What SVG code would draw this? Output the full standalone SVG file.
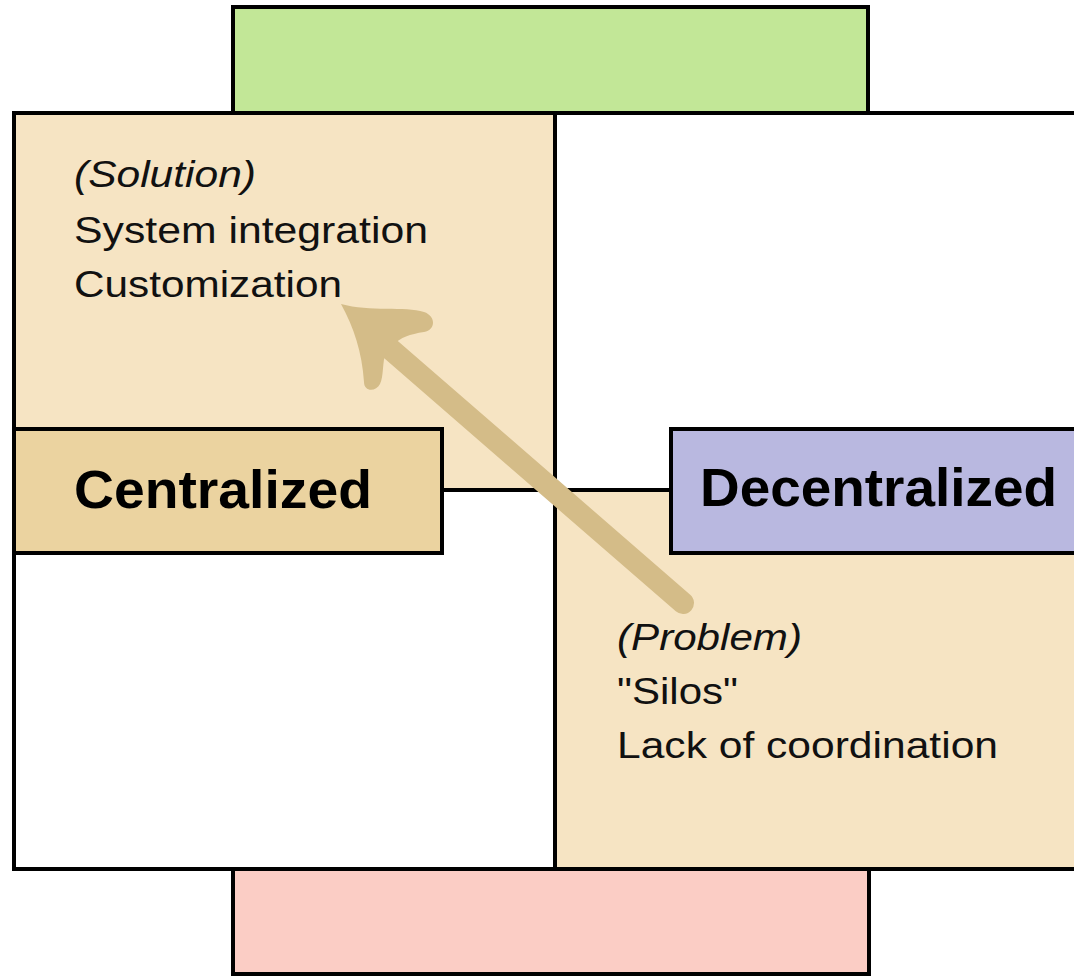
<svg xmlns="http://www.w3.org/2000/svg" width="1074" height="976" viewBox="0 0 1074 976">
  <style>
    .edge { stroke: #000; stroke-width: 4; }
    .body { font-family: "Liberation Sans", Arial, sans-serif; font-size: 37px; fill: #111; }
    .tag { font-style: italic; }
    .label { font-family: "Liberation Sans", Arial, sans-serif; font-size: 53px; font-weight: bold; fill: #000; }
  </style>
  <rect width="1074" height="976" fill="#fff"/>

  <!-- top and bottom bands -->
  <g id="top-band">
    <rect x="233" y="7" width="635" height="106" fill="#c2e797" class="edge"/>
  </g>
  <g id="bottom-band">
    <rect x="233" y="869" width="636" height="105" fill="#fbcdc5" class="edge"/>
  </g>

  <!-- quadrant grid -->
  <g id="grid">
    <rect x="14" y="113" width="1070" height="756" fill="#fff"/>
    <rect x="14" y="113" width="541" height="377" fill="#f6e4c3"/>
    <rect x="555" y="490" width="530" height="379" fill="#f6e4c3"/>
    <rect x="14" y="113" width="1070" height="756" fill="none" class="edge"/>
    <line x1="555" y1="113" x2="555" y2="869" class="edge"/>
    <line x1="14" y1="490" x2="1084" y2="490" class="edge"/>
  </g>

  <g id="solution">
    <text class="body tag" x="74" y="187" textLength="182" lengthAdjust="spacingAndGlyphs">(Solution)</text>
    <text class="body" x="74" y="243" textLength="354" lengthAdjust="spacingAndGlyphs">System integration</text>
    <text class="body" x="74" y="297" textLength="268" lengthAdjust="spacingAndGlyphs">Customization</text>
  </g>

  <g id="problem">
    <text class="body tag" x="617" y="650" textLength="185" lengthAdjust="spacingAndGlyphs">(Problem)</text>
    <text class="body" x="617" y="704" textLength="121" lengthAdjust="spacingAndGlyphs">"Silos"</text>
    <text class="body" x="617" y="758" textLength="381" lengthAdjust="spacingAndGlyphs">Lack of coordination</text>
  </g>

  <g id="centralized">
    <rect x="14" y="429" width="428" height="124" fill="#ebd3a0" class="edge"/>
    <text class="label" x="74" y="508" textLength="298" lengthAdjust="spacingAndGlyphs">Centralized</text>
  </g>

  <g id="decentralized">
    <rect x="671" y="429" width="413" height="124" fill="#b9b8e0" class="edge"/>
    <text class="label" x="700" y="506" textLength="357" lengthAdjust="spacingAndGlyphs">Decentralized</text>
  </g>

  <!-- brush arrow from problem to solution -->
  <g id="connectors">
    <line x1="683" y1="603" x2="388" y2="347" stroke="#d4bc88" stroke-width="22" stroke-linecap="round"/>
    <path d="M 341 304 C 370 312 405 306 424 312 C 436 316 436 330 424 332 C 410 334 400 338 394 344 L 386 352 C 382 362 384 376 380 384 C 376 392 364 392 364 382 C 362 352 354 328 341 304 Z" fill="#d4bc88"/>
  </g>
</svg>
